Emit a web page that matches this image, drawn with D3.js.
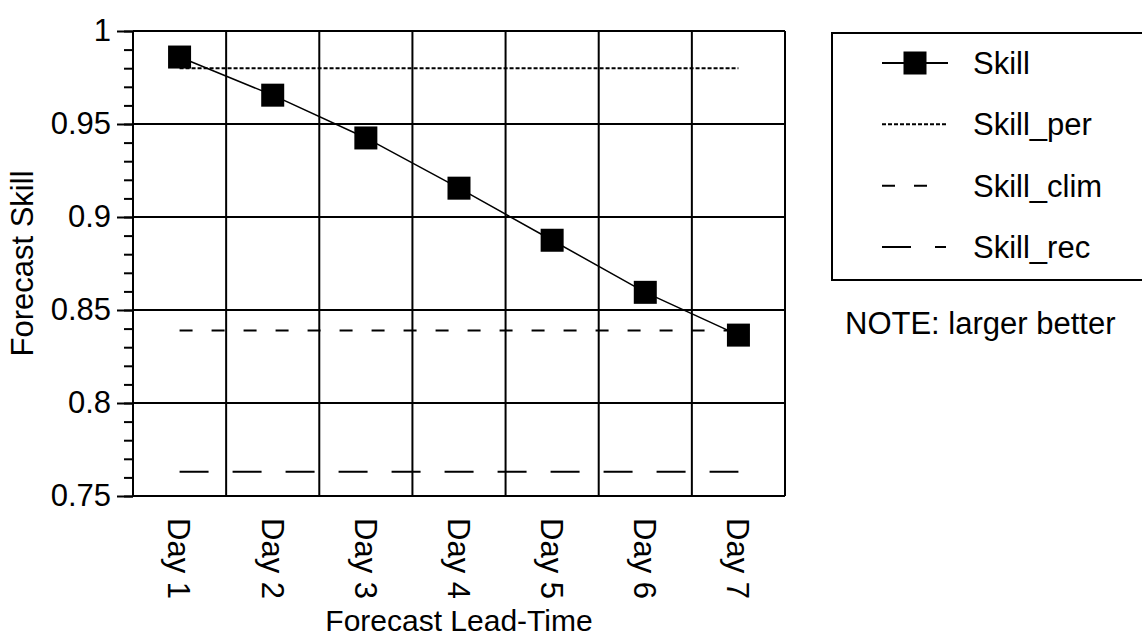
<!DOCTYPE html>
<html>
<head>
<meta charset="utf-8">
<script src="https://cdn.jsdelivr.net/npm/d3@7"></script>
<style>
  body { margin: 0; background: #fff; }
  text { font-family: "Liberation Sans", Arial, sans-serif; fill: #000; }
  .axis path { display: none; }
  .axis line { stroke: #000; stroke-width: 2; }
  .grid { stroke: #000; stroke-width: 2; }
</style>
</head>
<body>
<div class="chart"></div>
<script>
var days = ["Day 1", "Day 2", "Day 3", "Day 4", "Day 5", "Day 6", "Day 7"];
var skill = [0.986, 0.9655, 0.9425, 0.9155, 0.8875, 0.8595, 0.8365];
var skillPer = [0.98, 0.98, 0.98, 0.98, 0.98, 0.98, 0.98];
var skillClim = [0.839, 0.839, 0.839, 0.839, 0.839, 0.839, 0.839];
var skillRec = [0.763, 0.763, 0.763, 0.763, 0.763, 0.763, 0.763];
var yTicks = [0.75, 0.8, 0.85, 0.9, 0.95, 1];
var seriesNames = ["Skill", "Skill_per", "Skill_clim", "Skill_rec"];

var width = 1142
var height = 639
var plotLeft = 133, plotRight = 785, plotTop = 31, plotBottom = 496
var fontSize = 31

var svg = d3.select(".chart").append("svg")
            .attr("width", width)
            .attr("height", height);

var x = d3.scaleBand().domain(days).range([plotLeft, plotRight]).padding(0);
var y = d3.scaleLinear().domain([0.75, 1]).range([plotBottom, plotTop]);

// vertical grid at the band edges
var edges = days.map(function(d) { return x(d); }).concat([plotRight]);
svg.selectAll(".vgrid")
   .data(edges)
   .enter()
   .append("line")
   .attr("class", "grid")
   .attr("x1", function(d) { return d; })
   .attr("x2", function(d) { return d; })
   .attr("y1", plotTop)
   .attr("y2", plotBottom);

// horizontal grid at the major ticks
svg.selectAll(".hgrid")
   .data(yTicks)
   .enter()
   .append("line")
   .attr("class", "grid")
   .attr("x1", plotLeft)
   .attr("x2", plotRight)
   .attr("y1", function(d) { return y(d); })
   .attr("y2", function(d) { return y(d); });

// minor ticks
svg.append("g")
   .attr("class", "axis")
   .attr("transform", "translate(" + plotLeft + ",0)")
   .call(d3.axisLeft(y).tickValues(y.ticks(25)).tickSize(9).tickFormat(""));

var yAxis = svg.append("g")
               .attr("class", "axis")
               .attr("transform", "translate(" + plotLeft + ",0)")
               .call(d3.axisLeft(y).tickValues(yTicks).tickSize(16).tickPadding(6).tickFormat(d3.format("")));
yAxis.selectAll("text")
     .style("font-size", fontSize + "px")
     .style("font-family", "'Liberation Sans', Arial, sans-serif");

// x tick labels, rotated
svg.selectAll(".xlab")
   .data(days)
   .enter()
   .append("text")
   .attr("transform", function(d) { return "translate(" + (x(d) + x.bandwidth() / 2) + "," + (plotBottom + 22) + ") rotate(90)"; })
   .attr("dy", "0.36em")
   .style("font-size", fontSize + "px")
   .text(function(d) { return d; });

var cx = function(d, i) { return x(days[i]) + x.bandwidth() / 2; };

var flatLine = function(values, dash) {
  svg.append("path")
     .datum(values)
     .attr("fill", "none")
     .attr("stroke", "#000")
     .attr("stroke-width", 2)
     .attr("stroke-dasharray", dash)
     .attr("d", d3.line().x(cx).y(function(d) { return y(d); }));
}

flatLine(skillPer, "4,2");
flatLine(skillClim, "13,19");
flatLine(skillRec, "29,24");

svg.append("path")
   .datum(skill)
   .attr("fill", "none")
   .attr("stroke", "#000")
   .attr("stroke-width", 1.5)
   .attr("d", d3.line().x(cx).y(function(d) { return y(d); }));

var m = 23
svg.selectAll(".marker")
   .data(skill)
   .enter()
   .append("rect")
   .attr("x", function(d, i) { return cx(d, i) - m / 2; })
   .attr("y", function(d) { return y(d) - m / 2; })
   .attr("width", m)
   .attr("height", m)
   .attr("fill", "#000");

// axis titles
svg.append("text")
   .attr("x", (plotLeft + plotRight) / 2)
   .attr("y", 631)
   .attr("text-anchor", "middle")
   .style("font-size", "30px")
   .text("Forecast Lead-Time");

svg.append("text")
   .attr("transform", "translate(33," + ((plotTop + plotBottom) / 2) + ") rotate(-90)")
   .attr("text-anchor", "middle")
   .style("font-size", fontSize + "px")
   .text("Forecast Skill");

// legend
svg.append("rect")
   .attr("x", 832)
   .attr("y", 33)
   .attr("width", 330)
   .attr("height", 247)
   .attr("fill", "none")
   .attr("stroke", "#000")
   .attr("stroke-width", 2);

var legendDash = ["", "4,2", "13,19", "29,24"];
var legendY = d3.scalePoint().domain(seriesNames).range([63, 247]);

var items = svg.selectAll(".legend")
               .data(seriesNames)
               .enter()
               .append("g")
               .attr("transform", function(d) { return "translate(0," + legendY(d) + ")"; });

items.append("line")
     .attr("x1", 882)
     .attr("x2", function(d, i) { return i == 0 ? 948 : 946; })
     .attr("stroke", "#000")
     .attr("stroke-width", 2)
     .attr("stroke-dasharray", function(d, i) { return legendDash[i]; });

items.filter(function(d, i) { return i == 0; })
     .append("rect")
     .attr("x", 915 - m / 2)
     .attr("y", -m / 2)
     .attr("width", m)
     .attr("height", m)
     .attr("fill", "#000");

items.append("text")
     .attr("x", 973)
     .attr("dy", "0.35em")
     .style("font-size", fontSize + "px")
     .text(function(d) { return d; });

svg.append("text")
   .attr("x", 845)
   .attr("y", 334)
   .style("font-size", fontSize + "px")
   .text("NOTE: larger better");
</script>
</body>
</html>
